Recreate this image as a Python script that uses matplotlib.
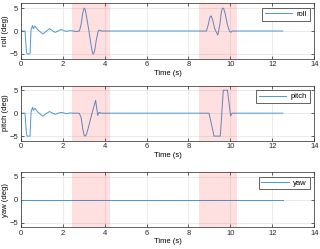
import matplotlib
matplotlib.use("Agg")
import matplotlib.pyplot as plt

# attitude traces (time in s, angle in deg)
roll_t = [0, 0.2, 0.27, 0.3, 0.44, 0.49, 0.56, 0.60, 0.67, 0.8, 1.05, 1.2, 1.37, 1.5,
          1.64, 1.78, 1.92, 2.05, 2.19, 2.35, 2.5, 2.65, 2.8, 2.88, 2.95, 3.02, 3.08,
          3.15, 3.25, 3.35, 3.42, 3.47, 3.53, 3.6, 3.7, 3.76, 3.84, 8.86, 8.95, 9.02,
          9.08, 9.15, 9.25, 9.4, 9.5, 9.57, 9.62, 9.68, 9.75, 9.85, 9.95, 10.02,
          10.08, 12.5]
roll_v = [0, 0, -4.5, -5, -5, 0.3, 1.2, 0.5, 1.1, 0.3, -0.65, -0.1, 0.5, 0.1,
          -0.3, 0.0, 0.35, 0.1, -0.1, 0.1, 0, -0.1, 0, 1.5, 3.8, 5, 4.6,
          2.8, 0, -3, -4.8, -5, -4.2, -2, 0.1, 0.2, 0, 0, 1.5, 3.0,
          3.3, 2.5, 0.5, -0.9, 1.5, 4.2, 5, 4.9, 3.8, 1.5, 0, -0.3,
          0, 0]

pitch_t = [0, 0.2, 0.27, 0.3, 0.44, 0.49, 0.56, 0.60, 0.67, 0.8, 1.05, 1.2, 1.37, 1.5,
           1.64, 1.78, 1.92, 2.05, 2.19, 2.35, 2.5, 2.79, 2.88, 2.96, 3.02, 3.08, 3.14,
           3.22, 3.4, 3.52, 3.57, 3.67, 3.74, 3.82, 8.98, 9.1, 9.22, 9.52, 9.66, 9.86,
           10.01, 10.08, 12.5]
pitch_v = [0, 0, -4.5, -5, -5, 0.3, 1.3, 0.6, 1.1, 0.3, -0.65, -0.1, 0.35, 0.05,
           -0.25, 0.0, 0.15, 0.05, -0.1, 0.05, 0, 0, -1.0, -3.5, -4.8, -5, -4.5,
           -3.2, 0, 2.0, 2.8, -0.5, 0.2, 0, 0, -2.5, -5, -5, 5, 5,
           -0.6, 0, 0]

yaw_t = [0, 12.5]
yaw_v = [0, 0]

# highlighted intervals (s)
spans = [(2.43, 4.25), (8.5, 10.33)]

panels = [("roll", roll_t, roll_v), ("pitch", pitch_t, pitch_v), ("yaw", yaw_t, yaw_v)]
boxes = [(0.065, 0.765, 0.917, 0.221),
         (0.065, 0.435, 0.917, 0.221),
         (0.065, 0.088, 0.917, 0.221)]

plt.rcParams["font.family"] = ["Liberation Sans", "DejaVu Sans"]
plt.rcParams["font.size"] = 5.5

fig = plt.figure(figsize=(3.2, 2.49), dpi=100)
for (name, t, v), box in zip(panels, boxes):
    ax = fig.add_axes(box)
    ax.plot(t, v, color="#4a98d6", lw=0.7, label=name, zorder=2)
    for a, b in spans:
        ax.axvspan(a, b, color="red", alpha=0.12, lw=0, zorder=3)
    ax.set_xlim(0, 14)
    ax.set_ylim(-6, 6)
    ax.set_xticks([0, 2, 4, 6, 8, 10, 12, 14])
    ax.set_yticks([-5, 0, 5])
    ax.grid(True, color="#e3e3e3", lw=0.5)
    ax.set_axisbelow(True)
    ax.tick_params(direction="in", length=2, width=0.5, pad=2, colors="#262626",
                   top=True, right=True)
    for s in ax.spines.values():
        s.set_linewidth(0.5)
        s.set_color("#262626")
    ax.set_xlabel("Time (s)", labelpad=1)
    ax.set_ylabel(f"{name} (deg)", labelpad=0)
    leg = ax.legend(loc="upper right", handlelength=3.6, handletextpad=0.6,
                    borderpad=0.35, borderaxespad=0.6, fancybox=False,
                    framealpha=1, edgecolor="#262626", markerfirst=True)
    leg.get_frame().set_linewidth(0.5)
    leg.set_zorder(5)

fig.savefig("out.png", dpi=100)
